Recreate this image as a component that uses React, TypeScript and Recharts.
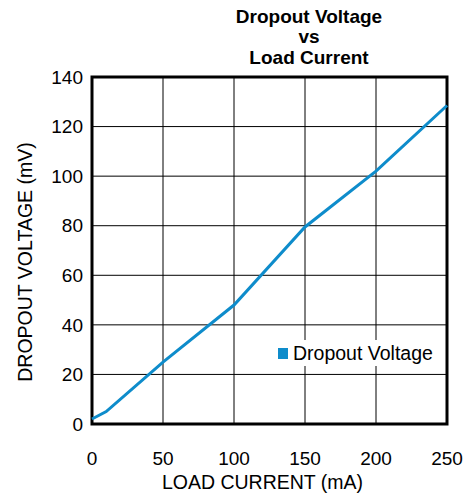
import { LineChart, Line, XAxis, YAxis, CartesianGrid, ReferenceArea, Legend } from "recharts"

const loadCurrent = [0, 10, 50, 100, 150, 200, 250]
const dropoutVoltage = [2, 5, 25, 48, 79.5, 102, 128.5]
const xTicks = [0, 50, 100, 150, 200, 250]
const yTicks = [0, 20, 40, 60, 80, 100, 120, 140]
const titleLines = ["Dropout Voltage", "vs", "Load Current"]

const data = loadCurrent.map((x, i) => ({ current: x, voltage: dropoutVoltage[i] }))

const FONT = "'Liberation Sans', Arial, sans-serif"
const BLUE = "#0e8ccb"

function LegendBox({ payload }: any) {
  return (
    <div style={{ display: "flex", alignItems: "center", height: 26, paddingLeft: 3 }}>
      {(payload || []).map((p: any) => (
        <div key={p.value} style={{ display: "flex", alignItems: "center" }}>
          <span style={{ width: 10, height: 11, background: BLUE, marginRight: 5, display: "inline-block" }} />
          <span style={{ fontSize: 19.5, fontFamily: FONT, color: "#000" }}>{p.value}</span>
        </div>
      ))}
    </div>
  )
}

export default function App() {
  return (
    <div style={{ position: "absolute", left: 0, top: 0, width: 466, height: 500, background: "#fff" }}>
      <div
        style={{
          position: "absolute",
          left: 159,
          top: 7,
          width: 300,
          textAlign: "center",
          fontFamily: FONT,
          fontWeight: "bold",
          fontSize: 19,
          lineHeight: "20.3px",
          color: "#000",
        }}
      >
        {titleLines.map((t) => (
          <div key={t}>{t}</div>
        ))}
      </div>
      <LineChart width={466} height={500} data={data} margin={{ top: 77, right: 19, bottom: 46, left: 32 }}>
        <CartesianGrid stroke="#000" strokeWidth={1} />
        <XAxis
          dataKey="current"
          type="number"
          domain={[0, 250]}
          ticks={xTicks}
          axisLine={false}
          tickLine={false}
          tickSize={6}
          tickMargin={21.5}
          height={30}
          tick={{ fill: "#000", fontSize: 19, fontFamily: FONT }}
          label={{ value: "LOAD CURRENT (mA)", position: "bottom", offset: 21, dx: -7, fill: "#000", fontSize: 19.5, fontFamily: FONT }}
        />
        <YAxis
          type="number"
          domain={[0, 140]}
          ticks={yTicks}
          axisLine={false}
          tickLine={false}
          tickSize={7}
          tickMargin={2}
          width={60}
          tick={{ fill: "#000", fontSize: 19, fontFamily: FONT }}
          label={{ value: "DROPOUT VOLTAGE (mV)", angle: -90, position: "center", dx: -37, dy: 11.5, fill: "#000", fontSize: 19.5, fontFamily: FONT }}
        />
        <Legend
          layout="vertical"
          align="center"
          verticalAlign="middle"
          content={<LegendBox />}
          wrapperStyle={{ left: 275, top: 340, width: 165, height: 26, background: "#fff" }}
        />
        <Line
          dataKey="voltage"
          name="Dropout Voltage"
          type="linear"
          stroke={BLUE}
          strokeWidth={3}
          dot={false}
          isAnimationActive={false}
        />
        <ReferenceArea x1={0} x2={250} y1={0} y2={140} fill="none" stroke="#000" strokeWidth={3} ifOverflow="visible" />
      </LineChart>
    </div>
  )
}
